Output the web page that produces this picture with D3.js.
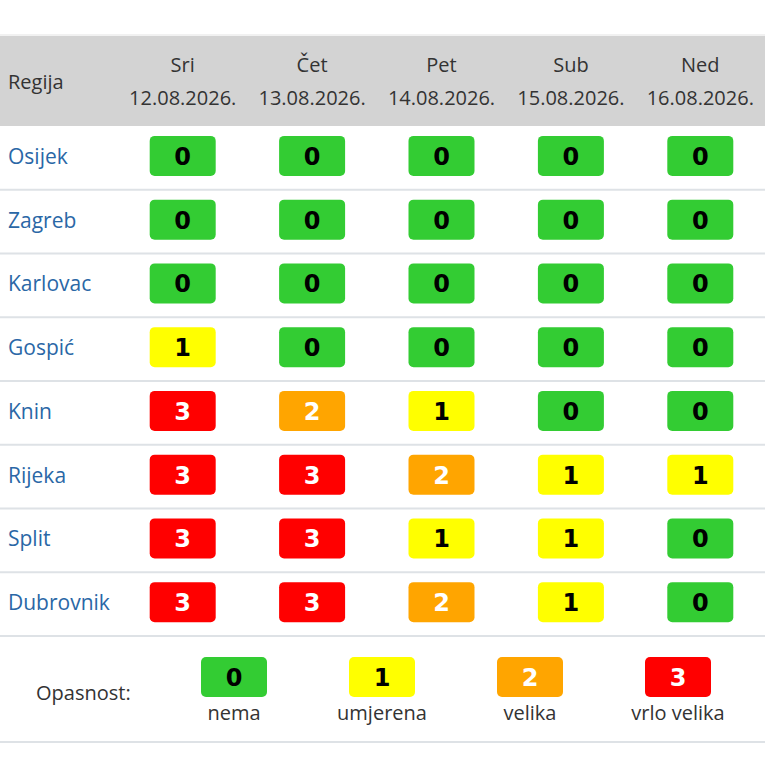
<!DOCTYPE html>
<html>
<head>
<meta charset="utf-8">
<script src="https://cdn.jsdelivr.net/npm/d3@7"></script>
<style>
  html, body { margin: 0; padding: 0; background: #fff; }
  svg { display: block; font-family: "Open Sans", sans-serif; }
</style>
</head>
<body>
<svg id="chart"></svg>
<script>
// podaci
var regions = ['Osijek', 'Zagreb', 'Karlovac', 'Gospić', 'Knin', 'Rijeka', 'Split', 'Dubrovnik'];
var days = ['Sri', 'Čet', 'Pet', 'Sub', 'Ned'];
var dates = ['12.08.2026.', '13.08.2026.', '14.08.2026.', '15.08.2026.', '16.08.2026.'];
var levels = [
  [0, 0, 0, 0, 0],
  [0, 0, 0, 0, 0],
  [0, 0, 0, 0, 0],
  [1, 0, 0, 0, 0],
  [3, 2, 1, 0, 0],
  [3, 3, 2, 1, 1],
  [3, 3, 1, 1, 0],
  [3, 3, 2, 1, 0]
];
var levelNames = ['nema', 'umjerena', 'velika', 'vrlo velika'];
var levelColors = ['#33cc33', '#ffff00', '#ffa500', '#ff0000'];
var textColors = ['#000', '#000', '#fff', '#fff'];

var W = 765, H = 765;
var svg = d3.select('#chart').attr('width', W).attr('height', H);

// skale
var x = d3.scaleBand().domain(d3.range(days.length)).range([118, 765]);
var y = d3.scaleBand().domain(d3.range(regions.length)).range([126, 636]);
var lx = d3.scalePoint().domain(d3.range(levelNames.length)).range([234, 678]);

var bw = 66, bh = 40;

// zaglavlje
svg.append('line').attr('x1', 0).attr('x2', W).attr('y1', 35).attr('y2', 35)
  .attr('stroke', '#e3e3e3').attr('stroke-width', 1);
svg.append('rect').attr('x', 0).attr('y', 36).attr('width', W).attr('height', 90)
  .attr('fill', '#d3d3d3');
svg.append('text').attr('x', 8).attr('y', 89).attr('font-size', 20).attr('fill', '#333')
  .text('Regija');

var head = svg.selectAll('.head').data(days).enter().append('g')
  .attr('class', 'head')
  .attr('transform', (d, i) => 'translate(' + (x(i) + x.bandwidth() / 2) + ',0)');
head.append('text').attr('y', 72).attr('text-anchor', 'middle').attr('font-size', 20)
  .attr('fill', '#333').text(d => d);
head.append('text').attr('y', 105).attr('text-anchor', 'middle').attr('font-size', 20)
  .attr('fill', '#333').text((d, i) => dates[i]);

// redovi
var row = svg.selectAll('.row').data(regions).enter().append('g')
  .attr('class', 'row')
  .attr('transform', (d, i) => 'translate(0,' + y(i) + ')');

row.append('line').attr('x1', 0).attr('x2', W)
  .attr('y1', y.bandwidth()).attr('y2', y.bandwidth())
  .attr('stroke', '#dee2e6').attr('stroke-width', 2);

row.append('text').attr('x', 8).attr('y', y.bandwidth() / 2 + 6)
  .attr('font-size', 21).attr('fill', '#2a67a6').text(d => d);

var cell = row.selectAll('.cell').data((d, i) => levels[i]).enter().append('g')
  .attr('class', 'cell')
  .attr('transform', (d, j) => 'translate(' + (x(j) + x.bandwidth() / 2) + ',' + (y.bandwidth() / 2 - 2) + ')');

cell.append('rect').attr('x', -bw / 2).attr('y', -bh / 2).attr('width', bw).attr('height', bh)
  .attr('rx', 5).attr('fill', d => levelColors[d]);
cell.append('text').attr('y', 9).attr('text-anchor', 'middle')
  .attr('font-family', '"DejaVu Sans", sans-serif').attr('font-weight', 'bold')
  .attr('font-size', 24).attr('fill', d => textColors[d]).text(d => d);

// legenda
svg.append('line').attr('x1', 0).attr('x2', W).attr('y1', 742).attr('y2', 742)
  .attr('stroke', '#dee2e6').attr('stroke-width', 2);
svg.append('text').attr('x', 36).attr('y', 700).attr('font-size', 20).attr('fill', '#333')
  .text('Opasnost:');

var leg = svg.selectAll('.leg').data(levelNames).enter().append('g')
  .attr('class', 'leg')
  .attr('transform', (d, i) => 'translate(' + lx(i) + ',677)');
leg.append('rect').attr('x', -bw / 2).attr('y', -20).attr('width', bw).attr('height', 40)
  .attr('rx', 5).attr('fill', (d, i) => levelColors[i]);
leg.append('text').attr('y', 9).attr('text-anchor', 'middle')
  .attr('font-family', '"DejaVu Sans", sans-serif').attr('font-weight', 'bold')
  .attr('font-size', 24).attr('fill', (d, i) => textColors[i]).text((d, i) => i);
leg.append('text').attr('y', 43).attr('text-anchor', 'middle').attr('font-size', 20)
  .attr('fill', '#333').text(d => d);
</script>
</body>
</html>
